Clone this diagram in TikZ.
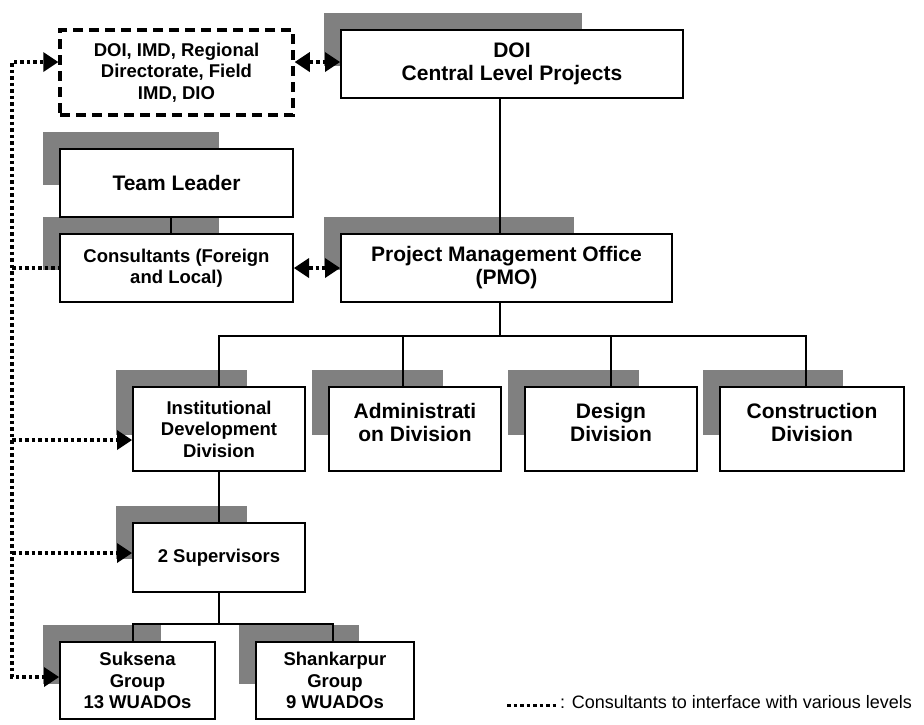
\documentclass[tikz,border=0pt]{standalone}
\usepackage{fontspec}
\setmainfont{Liberation Sans}
\usetikzlibrary{arrows.meta,calc,backgrounds}
\definecolor{shad}{HTML}{808080}
\tikzset{
  box/.style={draw, line width=2pt, fill=white, inner sep=0pt, align=center,
    font=\bfseries\fontsize{21}{23}\selectfont},
  smallbox/.style={box, font=\bfseries\fontsize{18.5}{21.5}\selectfont},
  extbox/.style={smallbox, line width=3.5pt, dash pattern=on 10pt off 6pt},
  dotline/.style={line width=3.5pt, dash pattern=on 3.5pt off 3pt},
  link/.style={line width=2pt},
  >={Triangle[length=15pt,width=20pt,line width=0pt]},
}
\newcommand\boxshadow[1]{\fill[shad] let \p1=(#1.north west), \p2=(#1.south east) in
  (\x1-16pt,\y1+16pt) rectangle ({\x1-16pt+0.75*(\x2-\x1)},{\y1+16pt-0.75*(\y1-\y2)});}
\begin{document}
\begin{tikzpicture}[x=1pt,y=-1pt]
\useasboundingbox (0,0) rectangle (924,724);
% boxes
\node[extbox, minimum width=233pt, minimum height=85pt] (ext) at (176.5,72.5) {DOI, IMD, Regional\\Directorate, Field\\IMD, DIO};
\node[box, minimum width=342pt, minimum height=68pt] (doi) at (512,64) {DOI\\Central Level Projects};
\node[box, minimum width=233pt, minimum height=68pt] (tl) at (176.5,183) {Team Leader};
\node[smallbox, minimum width=233pt, minimum height=68pt] (cons) at (176.5,268) {Consultants (Foreign\\and Local)};
\node[box, minimum width=331pt, minimum height=68pt] (pmo) at (506.5,268) {Project Management Office\\(PMO)};
\node[smallbox, minimum width=172pt, minimum height=84pt] (idd) at (219,429) {Institutional\\Development\\Division};
\node[box, minimum width=172pt, minimum height=84pt, text depth=14pt] (adm) at (415,429) {Administrati\\on Division};
\node[box, minimum width=172pt, minimum height=84pt, text depth=14pt] (des) at (611,429) {Design\\Division};
\node[box, minimum width=184pt, minimum height=84pt, text depth=14pt] (con) at (812,429) {Construction\\Division};
\node[smallbox, minimum width=172pt, minimum height=69pt] (sup) at (219,557.5) {2 Supervisors};
\node[smallbox, minimum width=155pt, minimum height=77pt] (suk) at (137.5,680.5) {Suksena\\Group\\13 WUADOs};
\node[smallbox, minimum width=158pt, minimum height=77pt] (sha) at (335,680.5) {Shankarpur\\Group\\9 WUADOs};
% shadows
\begin{scope}[on background layer]
\boxshadow{doi}\boxshadow{tl}\boxshadow{cons}\boxshadow{pmo}
\boxshadow{idd}\boxshadow{adm}\boxshadow{des}\boxshadow{con}
\boxshadow{sup}\boxshadow{suk}\boxshadow{sha}
\end{scope}
% hierarchy links
\draw[link] (doi.south -| 500,0) -- (pmo.north -| 500,0);
\draw[link] (tl.south -| 171,0) -- (cons.north -| 171,0);
\draw[link] (pmo.south -| 500,0) -- (500,336);
\draw[link] (idd.north) -- (219,336) -- (806,336) -- (con.north -| 806,0);
\draw[link] (adm.north -| 403,0) -- (403,336);
\draw[link] (des.north) -- (des.north |- 0,336);
\draw[link] (idd.south) -- (sup.north);
\draw[link] (sup.south) -- (219,624);
\draw[link] (suk.north -| 133,0) -- (133,624) -- (333,624) -- (sha.north -| 333,0);
% consultants interface lines
\draw[dotline,<->] (ext.west |- 0,62) -- (12,62) -- (12,677) -- (suk.west |- 0,677);
\draw[dotline] (12,268) -- (cons.west);
\draw[dotline,->] (12,440) -- (idd.west |- 0,440);
\draw[dotline,->] (12,553) -- (sup.west |- 0,553);
\draw[dotline,<->] (ext.east |- 0,62) -- (doi.west |- 0,62);
\draw[dotline,<->] (cons.east) -- (pmo.west);
% legend
\coordinate (lg1) at (507,705);
\coordinate (lg2) at (556,705);
\draw[dotline, line width=3pt] (lg1) -- (lg2);
\node[anchor=base west, inner sep=0pt, font=\fontsize{18}{20}\selectfont] (legend) at (560,708) {: Consultants to interface with various levels};
\end{tikzpicture}
\end{document}
